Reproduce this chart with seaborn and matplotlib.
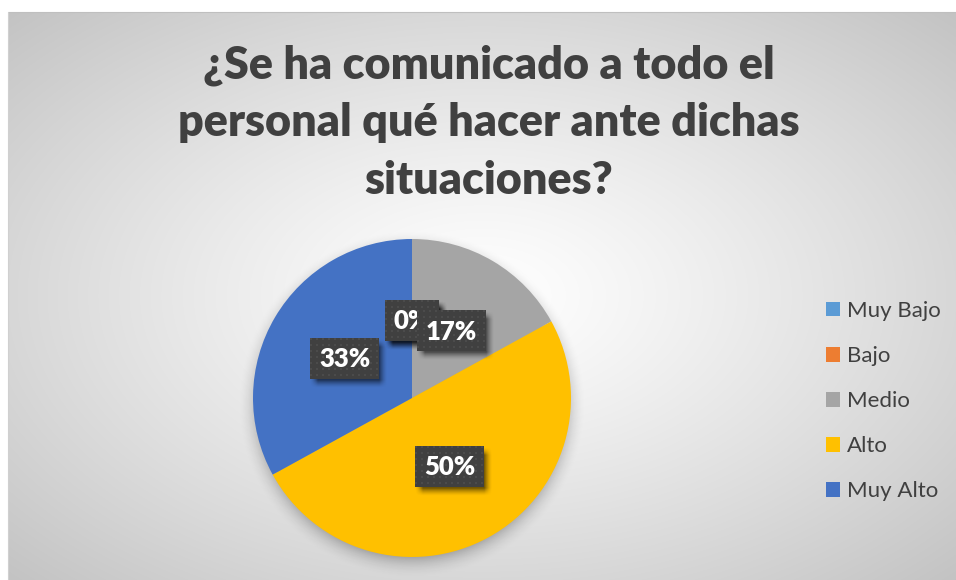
import numpy as np
import matplotlib
matplotlib.use("Agg")
import matplotlib.pyplot as plt
import seaborn as sns

# Datos del gráfico
categorias = ["Muy Bajo", "Bajo", "Medio", "Alto", "Muy Alto"]
porcentajes = [0, 0, 17, 50, 33]
colores = ["#5B9BD5", "#ED7D31", "#A5A5A5", "#FFC000", "#4472C4"]
titulo = ["¿Se ha comunicado a todo el",
          "personal qué hacer ante dichas",
          "situaciones?"]

sns.set_theme(style="white")
plt.rcParams["font.family"] = ["Lato", "DejaVu Sans"]

W, H = 956, 580
fig = plt.figure(figsize=(W / 100, H / 100), dpi=100, facecolor="white")
ax = fig.add_axes([0, 0, 1, 1])
ax.set_axis_off()

# Área del gráfico (coordenadas de píxel, y hacia abajo)
CX0, CX1, CY0, CY1 = 8, 956, 12, 580


def Y(y):
    """Convierte una y medida desde arriba a coordenadas de datos."""
    return H - y


# Fondo con degradado radial
yy, xx = np.mgrid[0:H, 0:W] + 0.5
nx = (xx - 482) / (W / 2)
ny = (yy - 296) / (H / 2)
d = np.clip(np.sqrt(nx ** 2 + ny ** 2) / np.sqrt(2), 0, 1)
v = 1.0 - 0.24 * d ** 1.2
bg = np.dstack([v, v, v])
outside = (xx < CX0) | (xx > CX1) | (yy < CY0) | (yy > CY1)
bg[outside] = 1.0
ax.imshow(bg, extent=(0, W, 0, H), origin="upper", zorder=0, interpolation="bilinear")
ax.plot([CX0, CX1], [Y(CY0), Y(CY0)], color="#bfbfbf", lw=0.8, zorder=0.5)
ax.plot([CX0, CX0], [Y(CY0), 0], color="#d0d0d0", lw=0.8, zorder=0.5)

# Geometría del pastel
PCX, PCY, R = 412, 398, 159

# Sombra suave del pastel
dist = np.sqrt((xx - PCX) ** 2 + (yy - (PCY + 6)) ** 2)
t = np.clip(1 - (dist - (R - 10)) / 26, 0, 1)
alpha = 0.34 * t ** 2
sh = np.zeros((H, W, 4))
sh[..., 3] = alpha
ax.imshow(sh, extent=(0, W, 0, H), origin="upper", zorder=1, interpolation="bilinear")

wedges, _ = ax.pie(porcentajes, colors=colores, startangle=90, counterclock=False,
                   radius=R, center=(PCX, Y(PCY)), frame=True,
                   wedgeprops=dict(linewidth=0, zorder=2))
for w in wedges:
    w.set_zorder(2)

ax.set_xlim(0, W)
ax.set_ylim(0, H)
ax.set_autoscale_on(False)

# Etiquetas de datos
fig.canvas.draw()
renderer = fig.canvas.get_renderer()


def soft_rect_alpha(shape, x0, x1, y0, y1, s):
    hh, ww = shape
    gy, gx = np.mgrid[0:hh, 0:ww] + 0.5
    fx = np.clip((np.minimum(gx - x0, x1 - gx) + s) / (2 * s), 0, 1)
    fy = np.clip((np.minimum(gy - y0, y1 - gy) + s) / (2 * s), 0, 1)
    return (fx * fy) ** 1.5


for i, (w, p) in enumerate(zip(wedges, porcentajes)):
    ang = np.deg2rad((w.theta1 + w.theta2) / 2)
    lx = PCX + 0.49 * R * np.cos(ang)
    ly = PCY - 0.49 * R * np.sin(ang)
    base = 3 + i
    txt = ax.text(lx, Y(ly) - 1, f"{p}%", color="white", fontsize=18.5, fontweight="heavy",
                  ha="center", va="center", zorder=base + 0.3)
    bb = txt.get_window_extent(renderer)
    bw = bb.width + 18
    bh = 41
    x0, x1 = lx - bw / 2, lx + bw / 2
    y0, y1 = ly - bh / 2, ly + bh / 2

    # sombra de la etiqueta
    m = 14
    sw, shh = int(bw + 2 * m), int(bh + 2 * m)
    a = soft_rect_alpha((shh, sw), m + 4, m + 4 + bw, m + 5, m + 5 + bh, 4) * 0.55
    simg = np.zeros((shh, sw, 4))
    simg[..., 3] = a
    ax.imshow(simg, extent=(x0 - m, x0 - m + sw, Y(y0 - m + shh), Y(y0 - m)),
              origin="upper", zorder=base + 0.1, interpolation="bilinear")

    # caja con patrón de puntos
    bwi, bhi = int(round(bw)), bh
    box = np.ones((bhi, bwi, 3)) * (0x40 / 255)
    gy, gx = np.mgrid[0:bhi, 0:bwi]
    dots = ((gx % 6) < 2) & ((gy % 6) < 2)
    box[dots] = 0x4b / 255
    ax.imshow(box, extent=(x0, x0 + bwi, Y(y1), Y(y0)), origin="upper",
              zorder=base + 0.2, interpolation="nearest")

ax.set_xlim(0, W)
ax.set_ylim(0, H)

# Título
for k, linea in enumerate(titulo):
    ax.text(489, Y(78 + 58 * k), linea, ha="center", va="baseline", fontsize=32.3,
            fontweight="heavy", color="#404040", zorder=10)

# Leyenda
leg = ax.legend(wedges, categorias, loc="upper left",
                bbox_to_anchor=(826 / W, Y(301) / H), bbox_transform=fig.transFigure,
                frameon=False, fontsize=16, handlelength=0.63, handleheight=0.63,
                handletextpad=0.33, labelspacing=1.13, borderpad=0, borderaxespad=0)
for tx in leg.get_texts():
    tx.set_color("#404040")
leg.set_zorder(10)

ax.set_xlim(0, W)
ax.set_ylim(0, H)
fig.savefig("out.png", dpi=100, facecolor="white")
